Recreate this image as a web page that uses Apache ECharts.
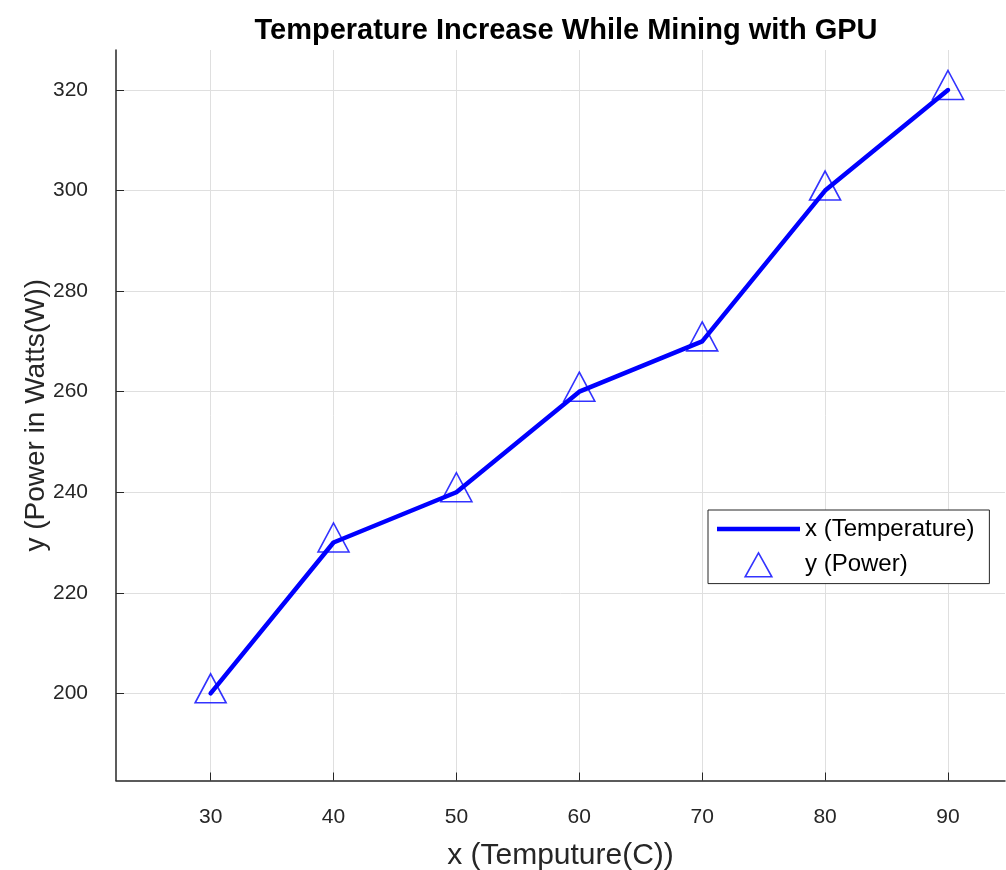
<!DOCTYPE html>
<html>
<head>
<meta charset="utf-8">
<script src="https://cdn.jsdelivr.net/npm/echarts@6/dist/echarts.min.js"></script>
<style>
html,body{margin:0;padding:0;background:#fff;}
#chart{width:1006px;height:870px;}
</style>
</head>
<body>
<div id="chart"></div>
<script>
const temperature = [30, 40, 50, 60, 70, 80, 90];
const power = [200, 230, 240, 260, 270, 300, 320];
const xTicks = [30, 40, 50, 60, 70, 80, 90];
const yTicks = [200, 220, 240, 260, 280, 300, 320];
const titleText = 'Temperature Increase While Mining with GPU';
const xName = 'x (Temputure(C))';
const yName = 'y (Power in Watts(W))';
const seriesNames = ['x (Temperature)', 'y (Power)'];

const pts = temperature.map((t, i) => [t, power[i]]);
const FONT = '"Liberation Sans", Arial, Helvetica, sans-serif';
const axisCol = '#262626';
const gridCol = '#dfdfdf';
const blue = '#0000ff';

const chart = echarts.init(document.getElementById('chart'), null, {renderer: 'canvas'});
chart.setOption({
  animation: false,
  backgroundColor: '#ffffff',
  title: {
    text: titleText,
    left: 561, top: 11, textAlign: 'center',
    textStyle: {fontFamily: FONT, fontWeight: 'bold', fontSize: 29, color: '#000'}
  },
  grid: {left: 116, right: 1, top: 50, bottom: 89.5, containLabel: false, outerBoundsMode: 'none'},
  legend: {
    orient: 'vertical',
    left: 708, top: 510,
    padding: [7, 15, 6, 9],
    itemGap: 11,
    itemWidth: 83, itemHeight: 24,
    symbolKeepAspect: true,
    backgroundColor: '#fff',
    borderColor: axisCol, borderWidth: 1,
    textStyle: {fontFamily: FONT, fontSize: 24, color: '#000'},
    data: [
      {name: seriesNames[0], icon: 'path://M0,0 L83,0 L83,4.5 L0,4.5 Z',
       itemStyle: {color: blue, borderWidth: 0}},
      {name: seriesNames[1], icon: 'path://M15,0 L30,27 L0,27 Z',
       itemStyle: {color: 'rgba(0,0,0,0)', borderColor: blue, borderWidth: 1.6}}
    ]
  },
  xAxis: {
    type: 'value', min: 22.3, max: 94.64,
    name: xName, nameLocation: 'middle', nameGap: 60, nameMoveOverlap: false,
    nameTextStyle: {fontFamily: FONT, fontSize: 30, color: axisCol},
    axisLine: {show: true, lineStyle: {color: axisCol, width: 1.5}},
    axisTick: {show: true, inside: true, length: 8, customValues: xTicks, lineStyle: {color: axisCol}},
    axisLabel: {customValues: xTicks, margin: 26, fontFamily: FONT, fontSize: 21, color: axisCol},
    splitLine: {show: true, lineStyle: {color: gridCol, width: 1}}
  },
  yAxis: {
    type: 'value', min: 182.66, max: 327.96,
    name: yName, nameLocation: 'middle', nameGap: 66, nameMoveOverlap: false,
    nameTextStyle: {fontFamily: FONT, fontSize: 28, color: axisCol},
    axisLine: {show: true, lineStyle: {color: axisCol, width: 1.5}},
    axisTick: {show: true, inside: true, length: 8, customValues: yTicks, lineStyle: {color: axisCol}},
    axisLabel: {customValues: yTicks, margin: 28, fontFamily: FONT, fontSize: 21, color: axisCol},
    splitLine: {show: true, lineStyle: {color: gridCol, width: 1}}
  },
  series: [
    {
      name: seriesNames[0], type: 'line', data: pts,
      symbol: 'none', showSymbol: false,
      lineStyle: {color: blue, width: 4.5, cap: 'round', join: 'round'},
      itemStyle: {color: blue},
      z: 2
    },
    {
      name: seriesNames[1], type: 'scatter', data: pts,
      symbol: 'triangle', symbolSize: [31, 29], symbolOffset: [0, -5],
      itemStyle: {color: 'rgba(0,0,0,0)', borderColor: blue, borderWidth: 1.6},
      z: 3
    }
  ]
});
</script>
</body>
</html>
